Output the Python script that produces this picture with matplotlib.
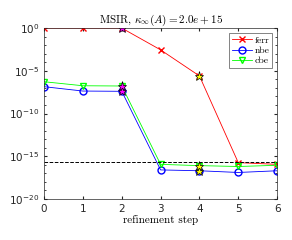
import matplotlib
matplotlib.use('Agg')
import matplotlib.pyplot as plt
from matplotlib.ticker import LogLocator, NullFormatter

# data (log10 values)
steps = [0, 1, 2, 3, 4, 5, 6]
ferr = [1.0, 1.0, 1.0, 10**-2.55, 10**-5.6, 10**-15.75, 10**-15.95]
nbe = [10**-6.86, 10**-7.37, 10**-7.4, 10**-16.6, 10**-16.7, 10**-16.9, 10**-16.7]
cbe = [10**-6.28, 10**-6.75, 10**-6.78, 10**-15.95, 10**-16.1, 10**-16.2, 10**-16.06]
unit_roundoff = 2.2e-16
mark_magenta = 2   # step index with magenta stars
mark_yellow = 4    # step index with yellow stars

fig = plt.figure(figsize=(2.92, 2.4), dpi=100)
ax = fig.add_axes([0.151, 0.171, 0.798, 0.712])

ax.semilogy(steps, ferr, color='red', marker='x', markersize=4, linewidth=0.6, label='ferr')
ax.semilogy(steps, nbe, color='blue', marker='o', markersize=5, markerfacecolor='none',
            linewidth=0.6, label='nbe')
ax.semilogy(steps, cbe, color='#00ff00', marker='v', markersize=5, markerfacecolor='none',
            linewidth=0.6, label='cbe')
ax.semilogy([steps[0], steps[-1]], [unit_roundoff, unit_roundoff], 'k--', linewidth=0.7)

for series in (ferr, nbe, cbe):
    ax.plot(steps[mark_magenta], series[mark_magenta], marker='*', markersize=6.5,
            markerfacecolor='magenta', markeredgecolor='black', markeredgewidth=0.5)
    ax.plot(steps[mark_yellow], series[mark_yellow], marker='*', markersize=6.5,
            markerfacecolor='yellow', markeredgecolor='black', markeredgewidth=0.5)

ax.set_xlim(0, 6)
ax.set_ylim(1e-20, 1e0)
ax.set_xticks(steps)
ax.set_yticks([1e-20, 1e-15, 1e-10, 1e-5, 1e0])
ax.yaxis.set_minor_locator(LogLocator(base=10, subs=[1.0], numticks=30))
ax.yaxis.set_minor_formatter(NullFormatter())
ax.tick_params(which='both', direction='in', top=True, right=True, labelsize=7.5,
               colors='#262626', length=2.5)
ax.tick_params(which='minor', length=1.5)
for s in ax.spines.values():
    s.set_color('#262626')
    s.set_linewidth(0.5)

ax.set_title(r'MSIR, $\kappa_\infty(A) = 2.0e+15$', fontsize=8, family='cmr10',
             math_fontfamily='cm', pad=2)
ax.set_xlabel('refinement step', fontsize=8, family='cmr10', labelpad=1)

leg = ax.legend(loc='upper right', frameon=True, fancybox=False,
                edgecolor='#262626', borderpad=0.3, handlelength=2.0, labelspacing=0.15,
                handletextpad=0.3, prop={'family': 'cmr10', 'size': 7})
leg.get_frame().set_linewidth(0.5)

fig.savefig('out.png', dpi=100)
